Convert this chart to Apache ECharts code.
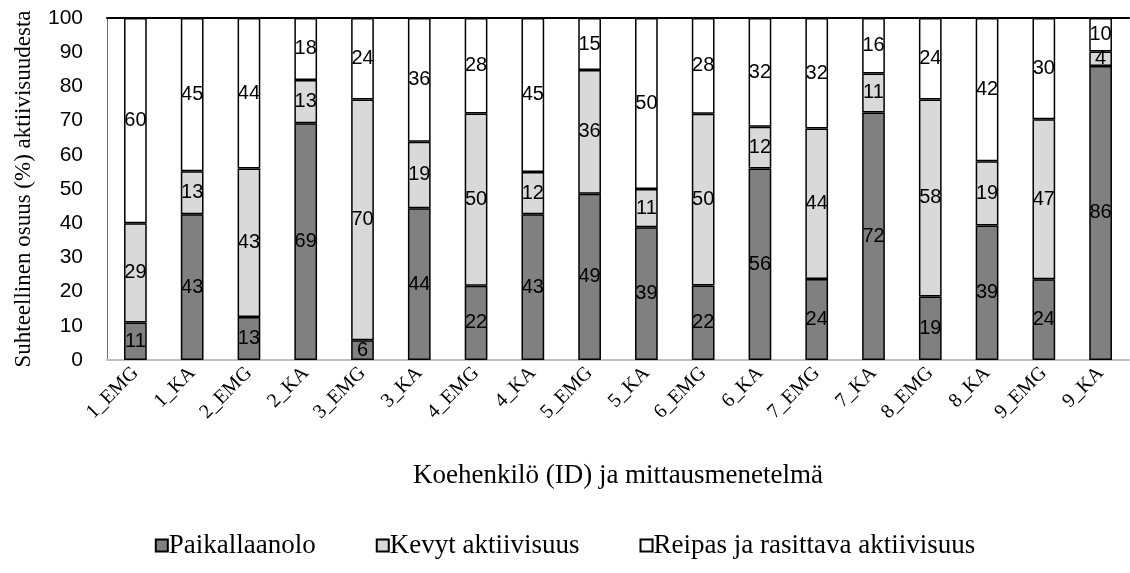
<!DOCTYPE html>
<html>
<head>
<meta charset="utf-8">
<script src="https://cdn.jsdelivr.net/npm/echarts@6/dist/echarts.min.js"></script>
<style>
html,body{margin:0;padding:0;background:#fff;}
#chart{width:1130px;height:573px;}
</style>
</head>
<body>
<div id="chart"></div>
<script>
const categories = ['1_EMG','1_KA','2_EMG','2_KA','3_EMG','3_KA','4_EMG','4_KA','5_EMG','5_KA','6_EMG','6_KA','7_EMG','7_KA','8_EMG','8_KA','9_EMG','9_KA'];
const paikallaanolo = [11.0,42.6,12.6,69.2,5.8,44.4,21.7,42.6,48.6,38.8,21.8,56.0,23.7,72.4,18.6,39.3,23.6,86.0];
const kevyt = [29.0,12.6,43.4,12.7,70.4,19.4,50.4,12.4,36.2,11.2,50.2,12.2,44.0,11.4,57.6,18.8,46.8,4.2];
const reipas = [60.0,44.8,44.0,18.1,23.8,36.2,27.9,45.0,15.2,50.0,28.0,31.8,32.3,16.2,23.8,41.9,29.6,9.8];
const yTicks = [0,10,20,30,40,50,60,70,80,90,100];
const seriesNames = ['Paikallaanolo','Kevyt aktiivisuus','Reipas ja rasittava aktiivisuus'];

const chart = echarts.init(document.getElementById('chart'), null, {renderer:'canvas'});
const serif = 'Liberation Serif, Times New Roman, serif';
const sans = 'Liberation Sans, Arial, sans-serif';

function mk(name, data, color){
  return {
    name: name, type:'bar', stack:'total', data:data, barWidth:'40%',
    itemStyle:{color:color, borderColor:'#000', borderWidth:1.5},
    label:{show:true, position:'inside', color:'#000', fontFamily:sans, fontSize:20,
      formatter: p => String(Math.round(p.value))},
    emphasis:{disabled:true}
  };
}

chart.setOption({
  animation:false,
  backgroundColor:'#fff',
  grid:{left:107, right:1, top:18, bottom:213, containLabel:false, outerBoundsMode:'none'},
  legend:{
    data: seriesNames, top:527, left:'center', itemWidth:12, itemHeight:12, itemGap:60,
    icon:'rect',
    textStyle:{fontFamily:serif, fontSize:27, color:'#000', padding:[0,0,0,-4]}
  },
  xAxis:[{
    type:'category', data:categories, position:'bottom',
    axisLine:{show:true, lineStyle:{color:'#bfbfbf', width:2}},
    axisTick:{show:false},
    axisLabel:{rotate:45, fontFamily:serif, fontSize:20, color:'#000', margin:10, interval:0},
    name:'Koehenkilö (ID) ja mittausmenetelmä', nameLocation:'middle', nameGap:102,
    nameTextStyle:{fontFamily:serif, fontSize:27, color:'#000'}
  },{
    type:'category', data:categories, position:'top',
    axisLine:{show:true, lineStyle:{color:'#000', width:2}},
    axisTick:{show:false}, axisLabel:{show:false}
  }],
  yAxis:{
    type:'value', min:yTicks[0], max:yTicks[yTicks.length-1], interval:10,
    axisLine:{show:true, lineStyle:{color:'#4a76c0', width:1}},
    axisTick:{show:false},
    splitLine:{show:false},
    axisLabel:{fontFamily:sans, fontSize:21, color:'#000', margin:24},
    name:'Suhteellinen osuus (%) aktiivisuudesta', nameLocation:'middle', nameGap:72,
    nameTextStyle:{fontFamily:serif, fontSize:23, color:'#000'}
  },
  series:[
    mk(seriesNames[0], paikallaanolo, '#808080'),
    mk(seriesNames[1], kevyt, '#d9d9d9'),
    mk(seriesNames[2], reipas, '#ffffff')
  ]
});
</script>
</body>
</html>
